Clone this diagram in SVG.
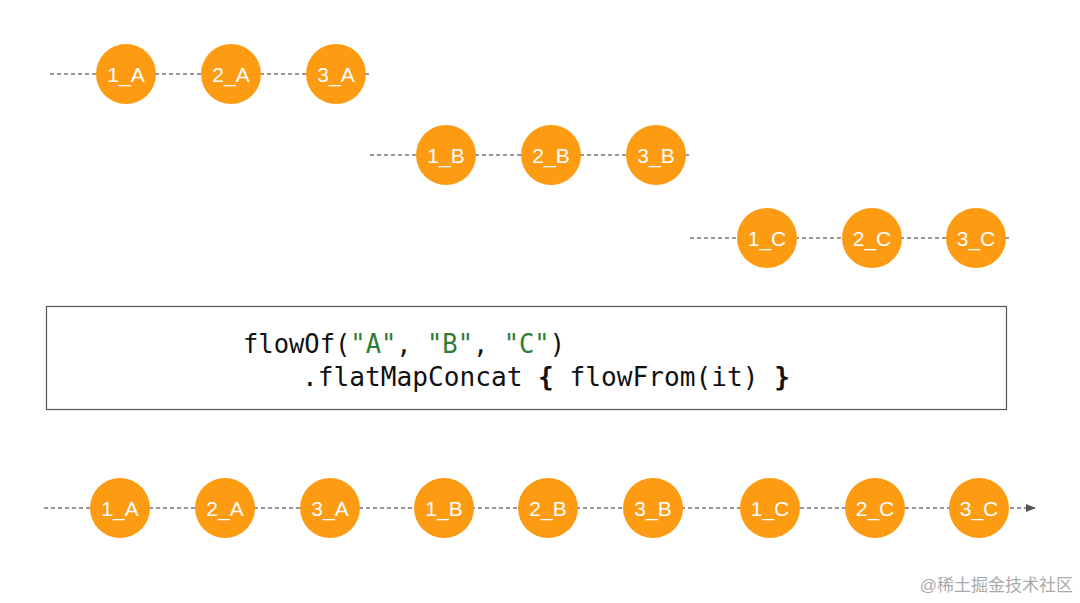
<svg xmlns="http://www.w3.org/2000/svg" width="1080" height="603" viewBox="0 0 1080 603">
<style>
.ln{stroke:#777;stroke-width:1.3;stroke-dasharray:4,3;fill:none}
.c{fill:#FD9B12}
.t{fill:#fff;font-family:"Liberation Sans",Arial,sans-serif;font-size:21px;text-anchor:middle}
.code{font-family:"DejaVu Sans Mono","Liberation Mono",monospace;font-size:27px;fill:#111}
.s{fill:#2E7D32}
</style>
<defs>
<marker id="ah" markerWidth="10" markerHeight="8" refX="9" refY="4" orient="auto" markerUnits="userSpaceOnUse">
<path d="M0,0 L10,4 L0,8 Z" fill="#555"/>
</marker>
</defs>
<rect width="1080" height="603" fill="#fff"/>
<g id="connectors">
<line class="ln" x1="50" y1="74" x2="370" y2="74"/>
<line class="ln" x1="370" y1="155" x2="690" y2="155"/>
<line class="ln" x1="690" y1="238" x2="1010" y2="238"/>
<line class="ln" x1="44" y1="508" x2="1035" y2="508" marker-end="url(#ah)"/>
</g>
<g id="n1A"><circle class="c" cx="126" cy="74" r="30"/><text class="t" x="126" y="82">1_A</text></g>
<g id="n2A"><circle class="c" cx="231" cy="74" r="30"/><text class="t" x="231" y="82">2_A</text></g>
<g id="n3A"><circle class="c" cx="336" cy="74" r="30"/><text class="t" x="336" y="82">3_A</text></g>
<g id="n1B"><circle class="c" cx="446" cy="155" r="30"/><text class="t" x="446" y="163">1_B</text></g>
<g id="n2B"><circle class="c" cx="551" cy="155" r="30"/><text class="t" x="551" y="163">2_B</text></g>
<g id="n3B"><circle class="c" cx="656" cy="155" r="30"/><text class="t" x="656" y="163">3_B</text></g>
<g id="n1C"><circle class="c" cx="767" cy="238" r="30"/><text class="t" x="767" y="246">1_C</text></g>
<g id="n2C"><circle class="c" cx="872" cy="238" r="30"/><text class="t" x="872" y="246">2_C</text></g>
<g id="n3C"><circle class="c" cx="976" cy="238" r="30"/><text class="t" x="976" y="246">3_C</text></g>
<g id="code">
<rect x="46.5" y="306.5" width="960" height="103" fill="#fff" stroke="#555" stroke-width="1.2"/>
<text class="code" x="243" y="353" textLength="322" lengthAdjust="spacingAndGlyphs">flowOf(<tspan class="s">"A"</tspan>, <tspan class="s">"B"</tspan>, <tspan class="s">"C"</tspan>)</text>
<text class="code" x="302" y="386" textLength="488" lengthAdjust="spacingAndGlyphs">.flatMapConcat <tspan font-weight="bold">{</tspan> flowFrom(it) <tspan font-weight="bold">}</tspan></text>
</g>
<g id="o1A"><circle class="c" cx="120" cy="508" r="30"/><text class="t" x="120" y="516">1_A</text></g>
<g id="o2A"><circle class="c" cx="225" cy="508" r="30"/><text class="t" x="225" y="516">2_A</text></g>
<g id="o3A"><circle class="c" cx="330" cy="508" r="30"/><text class="t" x="330" y="516">3_A</text></g>
<g id="o1B"><circle class="c" cx="444" cy="508" r="30"/><text class="t" x="444" y="516">1_B</text></g>
<g id="o2B"><circle class="c" cx="548" cy="508" r="30"/><text class="t" x="548" y="516">2_B</text></g>
<g id="o3B"><circle class="c" cx="653" cy="508" r="30"/><text class="t" x="653" y="516">3_B</text></g>
<g id="o1C"><circle class="c" cx="770" cy="508" r="30"/><text class="t" x="770" y="516">1_C</text></g>
<g id="o2C"><circle class="c" cx="875" cy="508" r="30"/><text class="t" x="875" y="516">2_C</text></g>
<g id="o3C"><circle class="c" cx="979" cy="508" r="30"/><text class="t" x="979" y="516">3_C</text></g>
<text x="1073" y="591" text-anchor="end" font-family="'Liberation Sans','Noto Sans CJK SC',sans-serif" font-size="17" fill="#aaa">@稀土掘金技术社区</text>
</svg>
